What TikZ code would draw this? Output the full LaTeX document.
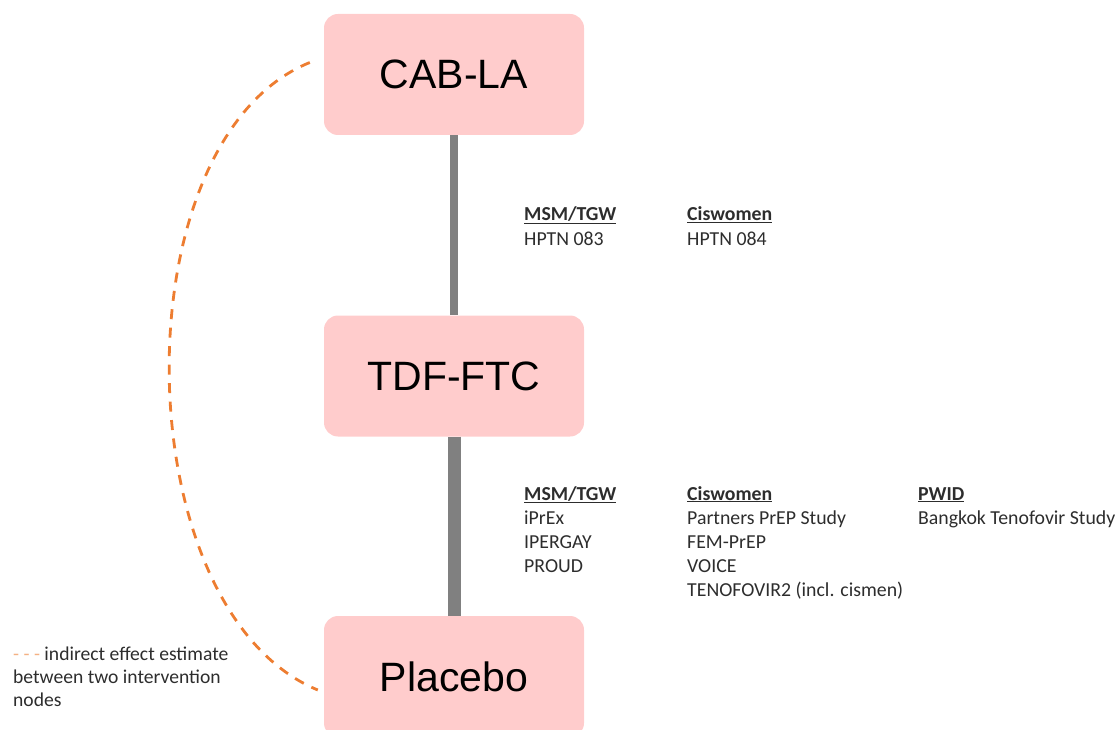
\documentclass[tikz,border=0pt]{standalone}
\usepackage{fontspec}
\setmainfont{Carlito}
\newfontfamily\arialfont{Liberation Sans}
\definecolor{boxpink}{RGB}{255,204,204}
\definecolor{linkgray}{RGB}{128,128,128}
\definecolor{dashorange}{RGB}{237,125,49}
\definecolor{legorange}{RGB}{244,177,131}
\definecolor{txtgray}{RGB}{45,45,45}
\tikzset{
  drugbox/.style={rounded corners=14pt, fill=boxpink, minimum width=260pt, minimum height=121pt, inner sep=0pt, font=\arialfont\fontsize{41}{48}\selectfont, text=black},
  lbl/.style={anchor=base west, inner sep=0pt, font=\fontsize{19.8}{24}\selectfont, text=txtgray},
  hd/.style={lbl, font=\fontsize{19.8}{24}\selectfont\bfseries},
  leg/.style={anchor=base west, inner sep=0pt, font=\fontsize{19.6}{23}\selectfont, text=txtgray},
  thinlink/.style={line width=7.5pt, draw=linkgray},
  thicklink/.style={line width=13pt, draw=linkgray},
  indirect/.style={draw=dashorange, line width=2.8pt, dash pattern=on 10pt off 8.5pt}
}
\begin{document}
\begin{tikzpicture}[x=1pt,y=-1pt]
\useasboundingbox (0,0) rectangle (1119,730);
\node[drugbox] (cab) at (454,74.5) {CAB-LA};
\node[drugbox] (tdf) at (454,376) {TDF-FTC};
\node[drugbox] (pla) at (454,676.5) {Placebo};
\draw[thinlink] (cab.south) -- (tdf.north);
\draw[thicklink] (tdf.south) -- (pla.north);
\coordinate (s) at ([shift={(-14pt,12pt)}]cab.west);
\coordinate (e) at ([shift={(-6pt,-13.5pt)}]pla.west);
\draw[indirect] (s) .. controls (118,140) and (124,610) .. (e);
% upper labels
\node[hd] (u1) at (524,221) {\underline{MSM/TGW}};
\node[lbl] (u2) at (524,245) {HPTN 083};
\node[hd] (u3) at (687,221) {\underline{Ciswomen}};
\node[lbl] (u4) at (687,245) {HPTN 084};
% lower labels
\node[hd] (m0) at (524,500) {\underline{MSM/TGW}};
\node[lbl] (m1) at (524,524) {iPrEx};
\node[lbl] (m2) at (524,548) {IPERGAY};
\node[lbl] (m3) at (524,572) {PROUD};
\node[hd] (c0) at (687,500) {\underline{Ciswomen}};
\node[lbl] (c1) at (687,524) {Partners PrEP Study};
\node[lbl] (c2) at (687,548) {FEM-PrEP};
\node[lbl] (c3) at (687,572) {VOICE};
\node[lbl] (c4) at (687,596) {TENOFOVIR2 (incl. cismen)};
\node[hd] (p0) at (918,500) {\underline{PWID}};
\node[lbl] (p1) at (918,524) {Bangkok Tenofovir Study};
% legend
\node[leg] (l1) at (13,660) {\textcolor{legorange}{- - -} indirect effect estimate};
\node[leg] (l2) at (13,683) {between two intervention};
\node[leg] (l3) at (13,706) {nodes};
\end{tikzpicture}
\end{document}
